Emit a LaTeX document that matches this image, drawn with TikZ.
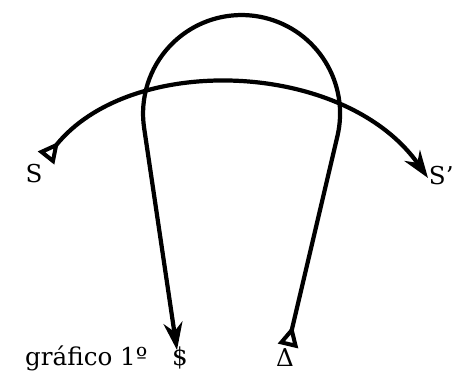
\documentclass[tikz,border=0pt]{standalone}
\usepackage{fontspec}
\setmainfont{DejaVu Serif}
\usepackage{tikz}
\usetikzlibrary{arrows.meta}

\begin{document}
\begin{tikzpicture}[x=0.02cm, y=-0.02cm, font=\fontsize{14}{16}\selectfont,
    flow/.style={line width=2.4pt, line join=round},
    tail/.style={{Triangle[open, reversed, length=0.42cm, width=0.4cm, line width=2.3pt]}-{Stealth[length=0.55cm, width=0.38cm]}}]
  \useasboundingbox (0,0) rectangle (455,372);
  % ends of the two paths
  \coordinate (sStart) at (46,158);
  \coordinate (sEnd) at (428,178);
  \coordinate (dBase) at (288,346);
  \coordinate (dTip) at (177,350);
  % wide arc from S to S'
  \draw[flow, tail] (sStart) .. controls (130,52) and (345,60) .. (sEnd);
  % loop: up from the triangle, round the top, down to the arrow
  \draw[flow, tail] (dBase) -- (337.4,136.2)
     arc[start angle=13.3, end angle=-188.5, radius=98.5] -- (dTip);
  % labels
  \node (sLabel) at (34,174) {S};
  \node[anchor=east, inner sep=0pt] (sPrime) at (454,176) {S'};
  \node[anchor=base west] (caption) at (19,365) {gráfico 1º};
  \node[anchor=base] (dollar) at (180,365) {\$};
  \node[anchor=base] (delta) at (285,366) {Δ};
\end{tikzpicture}
\end{document}
